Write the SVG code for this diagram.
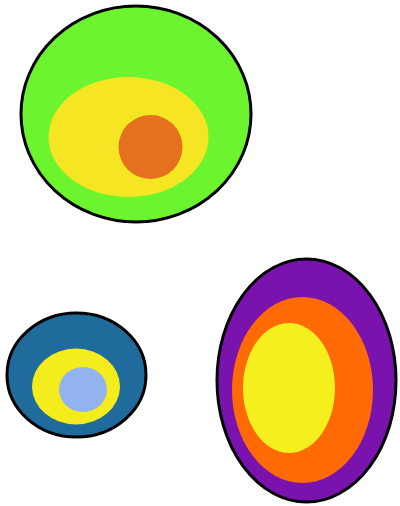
<svg xmlns="http://www.w3.org/2000/svg" width="400" height="506" viewBox="0 0 400 506">
<style>
.outer{stroke:#000;stroke-width:3}
</style>
<rect width="400" height="506" fill="#fff"/>
<g id="green-group">
<ellipse class="outer" cx="136" cy="114" rx="115" ry="108" fill="#6cf52f"/>
<ellipse cx="128.5" cy="137" rx="80" ry="60" fill="#f6e522"/>
<circle cx="150.5" cy="147" r="32" fill="#e5711e"/>
</g>
<g id="blue-group">
<ellipse class="outer" cx="76.5" cy="375" rx="69.5" ry="62" fill="#1f6b9c"/>
<ellipse cx="76" cy="386.5" rx="44" ry="38" fill="#f4ec1c"/>
<ellipse cx="83" cy="389.5" rx="24" ry="22.5" fill="#93b3f0"/>
</g>
<g id="purple-group">
<ellipse class="outer" cx="306.5" cy="380.5" rx="89.5" ry="121.5" fill="#7a12ad"/>
<ellipse cx="302.5" cy="390" rx="70.5" ry="93" fill="#ff6a05"/>
<ellipse cx="289" cy="388" rx="46" ry="65" fill="#f5ef1e"/>
</g>
<g id="connectors"/>
</svg>
